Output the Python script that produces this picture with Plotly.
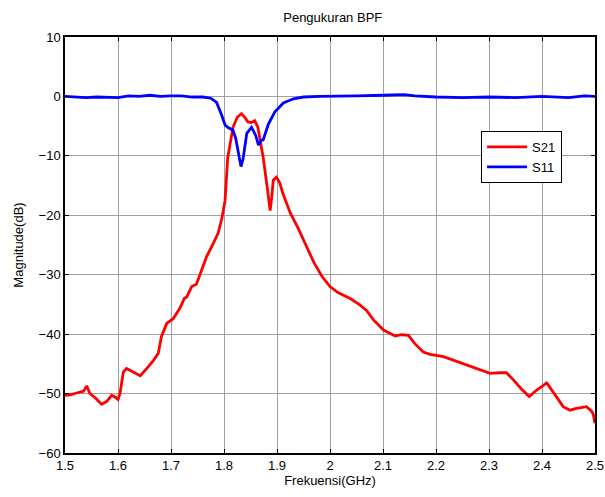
import plotly.graph_objects as go

# S21 (red) measured values
s21_freq = [1.500, 1.510, 1.522, 1.535, 1.541, 1.547, 1.557, 1.569, 1.579, 1.588,
            1.595, 1.600, 1.604, 1.610, 1.616, 1.629, 1.642, 1.654, 1.667, 1.676,
            1.682, 1.692, 1.704, 1.717, 1.725, 1.730, 1.739, 1.748, 1.755, 1.767,
            1.780, 1.789, 1.796, 1.802, 1.807, 1.817, 1.825, 1.833, 1.840, 1.845,
            1.852, 1.858, 1.864, 1.869, 1.874, 1.883, 1.887, 1.890, 1.893, 1.899,
            1.905, 1.911, 1.918, 1.925, 1.940, 1.955, 1.970, 1.985, 2.000, 2.015,
            2.038, 2.055, 2.069, 2.082, 2.101, 2.123, 2.135, 2.148, 2.160, 2.176,
            2.189, 2.214, 2.233, 2.252, 2.277, 2.302, 2.320, 2.333, 2.346, 2.362,
            2.376, 2.390, 2.409, 2.421, 2.440, 2.453, 2.465, 2.484, 2.494, 2.497,
            2.500]
s21_db = [-50.3, -50.2, -49.9, -49.6, -48.7, -50.0, -50.7, -51.8, -51.3, -50.3,
          -50.6, -51.0, -49.9, -46.4, -45.8, -46.4, -47.0, -45.8, -44.4, -43.2,
          -40.4, -38.2, -37.4, -35.6, -34.0, -33.7, -32.0, -31.6, -30.0, -27.0,
          -24.7, -23.0, -20.5, -17.5, -10.3, -5.2, -3.5, -2.9, -3.6, -4.3,
          -4.4, -4.1, -5.2, -7.5, -10.3, -16.3, -19.2, -17.0, -14.1, -13.6,
          -14.5, -16.3, -18.0, -19.6, -22.2, -25.0, -28.0, -30.3, -32.0, -33.0,
          -34.0, -35.0, -36.0, -37.6, -39.3, -40.3, -40.1, -40.2, -41.6, -43.0,
          -43.4, -43.8, -44.4, -44.9, -45.8, -46.6, -46.5, -46.5, -47.7, -49.3,
          -50.5, -49.4, -48.2, -49.7, -52.2, -52.8, -52.5, -52.2, -53.0, -53.6,
          -55.0]

# S11 (blue) measured values
s11_freq = [1.500, 1.520, 1.540, 1.560, 1.580, 1.600, 1.620, 1.640, 1.660, 1.680,
            1.700, 1.720, 1.740, 1.760, 1.775, 1.786, 1.795, 1.802, 1.807, 1.817,
            1.822, 1.827, 1.832, 1.836, 1.843, 1.852, 1.860, 1.865, 1.870, 1.874,
            1.880, 1.884, 1.896, 1.912, 1.931, 1.950, 1.980, 2.000, 2.050, 2.100,
            2.140, 2.160, 2.200, 2.250, 2.300, 2.350, 2.400, 2.450, 2.480, 2.500]
s11_db = [0.0, -0.1, -0.2, -0.1, -0.1, -0.2, 0.1, 0.0, 0.2, 0.0,
          0.1, 0.1, -0.1, -0.1, -0.3, -1.0, -3.0, -4.8, -5.2, -5.7,
          -7.0, -9.5, -11.8, -10.5, -6.2, -5.2, -6.6, -8.2, -7.4, -7.3,
          -5.8, -4.6, -2.6, -1.1, -0.4, -0.1, 0.0, 0.0, 0.1, 0.2,
          0.3, 0.1, -0.1, -0.2, -0.1, -0.2, 0.0, -0.2, 0.1, 0.0]

x_ticks = [1.5, 1.6, 1.7, 1.8, 1.9, 2.0, 2.1, 2.2, 2.3, 2.4, 2.5]
x_tick_text = ["1.5", "1.6", "1.7", "1.8", "1.9", "2", "2.1", "2.2", "2.3", "2.4", "2.5"]
y_ticks = [-60, -50, -40, -30, -20, -10, 0, 10]

FONT = "Liberation Sans, Arial, sans-serif"

fig = go.Figure()
fig.add_trace(go.Scatter(x=s21_freq, y=s21_db, mode="lines", name="S21",
                         line=dict(color="#ff0000", width=2.8)))
fig.add_trace(go.Scatter(x=s11_freq, y=s11_db, mode="lines", name="S11",
                         line=dict(color="#0000ff", width=2.8)))

axis_common = dict(showline=True, linecolor="black", linewidth=1.5, mirror="ticks",
                   ticks="inside", ticklen=4, tickcolor="black", automargin=False,
                   showgrid=True, gridcolor="#a0a0a0", gridwidth=1, zeroline=False,
                   tickfont=dict(family=FONT, size=13, color="black"))

fig.update_xaxes(range=[1.5, 2.5], tickvals=x_ticks, ticktext=x_tick_text,
                 title=dict(text="Frekuensi(GHz)", font=dict(family=FONT, size=13, color="black"),
                            standoff=4),
                 **axis_common)
fig.update_yaxes(range=[-60, 10], tickvals=y_ticks,
                 title=dict(text="Magnitude(dB)", font=dict(family=FONT, size=13, color="black"),
                            standoff=12),
                 **axis_common)

fig.update_layout(
    width=605, height=497,
    margin=dict(l=65, r=10, t=37, b=44),
    paper_bgcolor="white", plot_bgcolor="white",
    title=dict(text="Pengukuran BPF", x=0.55, xanchor="center", y=0.965, yanchor="middle",
               font=dict(family=FONT, size=13, color="black")),
    legend=dict(x=0.785, y=0.774, xanchor="left", yanchor="top",
                bgcolor="white", bordercolor="black", borderwidth=1,
                font=dict(family=FONT, size=13, color="black"),
                itemwidth=40, tracegroupgap=0),
    showlegend=True,
)

fig.write_html("out.html", config={"displayModeBar": False},
               post_script="document.body.style.margin='0';")
